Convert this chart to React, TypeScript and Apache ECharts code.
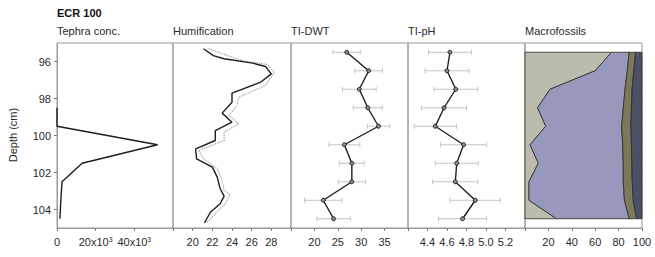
import React, { useEffect, useRef } from 'react';
import * as echarts from 'echarts';

// ---- Data ----
const depthTicks = [96, 98, 100, 102, 104];
const sampleDepths = [95.5, 96.5, 97.5, 98.5, 99.5, 100.5, 101.5, 102.5, 103.5, 104.5];

const tephraDepth = [98.5, 99.5, 100.5, 101.5, 102.5, 103.5, 104.5];
const tephraConc = [0, 0, 52000, 13000, 2600, 2000, 1500];
const tephraTicks = [0, 20000, 40000, 60000];
const tephraLabels = [0, 20000, 40000];

const humDepth = [95.31, 95.68, 95.85, 96.09, 96.27, 96.67, 97.12, 97.71, 98.2, 98.79, 99.28, 99.73, 100.27, 100.72, 101.26, 101.71, 102.25, 102.88, 103.28, 103.69, 104.15, 104.72];
const humValue = [21.1, 22.1, 23.2, 26.1, 27.4, 28.0, 26.9, 24.0, 24.0, 23.0, 24.0, 22.3, 22.3, 20.3, 20.4, 22.0, 22.5, 22.8, 23.2, 22.8, 21.8, 21.2];
const humDotDepth = [95.3, 95.58, 95.95, 96.16, 96.58, 97.3, 97.93, 98.38, 98.92, 99.37, 99.82, 100.27, 100.81, 101.26, 101.8, 102.43, 102.97, 103.2, 103.69, 104.32, 104.72];
const humDotValue = [21.6, 23.0, 25.0, 27.6, 28.3, 27.4, 24.7, 24.5, 23.7, 24.7, 23.2, 23.2, 20.6, 21.1, 22.5, 23.0, 23.2, 23.8, 23.3, 22.1, 21.45];
const humTicks = [18, 20, 22, 24, 26, 28, 30];
const humLabels = [20, 22, 24, 26, 28];

const dwtValue = [26.9, 31.6, 29.6, 31.4, 33.7, 26.4, 28.0, 28.0, 21.9, 24.1];
const dwtErr = [2.9, 2.95, 3.6, 3.1, 2.4, 3.3, 2.6, 2.9, 4.0, 3.55];
const dwtTicks = [15, 20, 25, 30, 35, 40];
const dwtLabels = [20, 25, 30, 35];

const phValue = [4.63, 4.60, 4.69, 4.57, 4.48, 4.77, 4.70, 4.685, 4.89, 4.76];
const phErr = [0.22, 0.225, 0.225, 0.23, 0.217, 0.237, 0.22, 0.232, 0.258, 0.246];
const phTicks = [4.2, 4.4, 4.6, 4.8, 5.0, 5.2, 5.4];
const phLabels = [4.4, 4.6, 4.8, 5.0, 5.2];

const macroBand1 = [74, 60, 21.4, 10.8, 17.7, 4.3, 11.4, 3.4, 3.4, 27];
const macroBand2 = [15, 27.5, 64.1, 73.2, 64.9, 79.2, 72.6, 80.6, 81.6, 62];
const macroBand3 = [5.5, 5.5, 6, 7, 7.9, 7.5, 7.2, 7.7, 7.5, 6.5];
const macroBand4 = [5.5, 7, 8.5, 9, 9.5, 9, 8.8, 8.3, 7.5, 4.5];
const macroTicks = [0, 20, 40, 60, 80, 100];
const macroLabels = [20, 40, 60, 80, 100];

const panelTitles = ['Tephra conc.', 'Humification', 'TI-DWT', 'TI-pH', 'Macrofossils'];
const chartTitle = 'ECR 100';
const depthName = 'Depth (cm)';

// ---- Styles / layout ----
const FONT = 'Liberation Sans, Arial, sans-serif';
const TXT = '#2a2a2a';
const FRAME = '#9a9a9a';
const TOP = 43;
const HEIGHT = 185;
const panels = [
  { left: 57, width: 116 },
  { left: 173, width: 118 },
  { left: 291, width: 117 },
  { left: 408, width: 117 },
  { left: 525, width: 117 },
];
const macroColors = ['#bcbcac', '#9898bc', '#7a7a5a', '#4e4e64'];

export default function App() {
  const ref = useRef<HTMLDivElement>(null);
  useEffect(() => {
    if (!ref.current) return;
    const chart = echarts.init(ref.current, undefined, { renderer: 'svg' });

    const grids = panels.map((p) => ({
      left: p.left,
      top: TOP,
      width: p.width,
      height: HEIGHT,
      show: true,
      borderColor: FRAME,
      borderWidth: 1,
      backgroundColor: 'transparent',
      containLabel: false,
    }));

    const xDefs = [
      { min: 0, max: 60000, interval: 20000, ticks: tephraTicks, labels: tephraLabels },
      { min: 18, max: 30, interval: 2, ticks: humTicks, labels: humLabels },
      { min: 15, max: 40, interval: 5, ticks: dwtTicks, labels: dwtLabels },
      { min: 4.2, max: 5.4, interval: 0.2, ticks: phTicks, labels: phLabels },
      { min: 0, max: 100, interval: 20, ticks: macroTicks, labels: macroLabels },
    ];

    const xAxes = xDefs.map((d, i) => ({
      type: 'value',
      gridIndex: i,
      min: d.min,
      max: d.max,
      interval: d.interval,
      position: 'bottom',
      axisLine: { show: true, lineStyle: { color: FRAME, width: 1 } },
      axisTick: { show: true, inside: false, length: 3, customValues: d.ticks, lineStyle: { color: '#777' } },
      splitLine: { show: false },
      axisLabel: {
        show: true,
        customValues: d.labels,
        margin: 8,
        color: TXT,
        fontSize: 11,
        fontFamily: FONT,
        formatter:
          i === 0
            ? (v: number) => (v === 0 ? '0' : `{b|${v / 1000}x10}{s|3}`)
            : i === 3
            ? (v: number) => v.toFixed(1)
            : (v: number) => String(v),
        rich:
          i === 0
            ? {
                b: { fontSize: 11, fontFamily: FONT, color: TXT },
                s: { fontSize: 7, fontFamily: FONT, color: TXT, verticalAlign: 'top' },
              }
            : undefined,
      },
    }));

    const yAxes = panels.map((_, i) => ({
      type: 'value',
      gridIndex: i,
      min: 95,
      max: 105,
      inverse: true,
      axisLine: { show: i === 0, lineStyle: { color: FRAME } },
      axisTick: { show: i === 0, length: 3, customValues: depthTicks, lineStyle: { color: '#777' } },
      splitLine: { show: false },
      axisLabel: {
        show: i === 0,
        customValues: depthTicks,
        margin: 6,
        color: TXT,
        fontSize: 11,
        fontFamily: FONT,
      },
    }));

    const errorBar = (xi: number, vals: number[], errs: number[]) => ({
      type: 'custom',
      xAxisIndex: xi,
      yAxisIndex: xi,
      z: 1,
      silent: true,
      encode: { x: [0, 1], y: 2 },
      data: vals.map((v, k) => [v - errs[k], v + errs[k], sampleDepths[k]]),
      renderItem: (params: any, api: any) => {
        const lo = api.coord([api.value(0), api.value(2)]);
        const hi = api.coord([api.value(1), api.value(2)]);
        const h = 2.5;
        const st = { stroke: '#c4c4c4', lineWidth: 1 };
        return {
          type: 'group',
          children: [
            { type: 'line', shape: { x1: lo[0], y1: lo[1], x2: hi[0], y2: hi[1] }, style: st },
            { type: 'line', shape: { x1: lo[0], y1: lo[1] - h, x2: lo[0], y2: lo[1] + h }, style: st },
            { type: 'line', shape: { x1: hi[0], y1: hi[1] - h, x2: hi[0], y2: hi[1] + h }, style: st },
          ],
        };
      },
    });

    const bands = [macroBand1, macroBand2, macroBand3, macroBand4];
    const macroSeries = {
      type: 'custom',
      xAxisIndex: 4,
      yAxisIndex: 4,
      silent: true,
      z: 1,
      encode: { x: 0, y: 1 },
      data: bands.map((_, b) => [b, sampleDepths[0]]),
      renderItem: (params: any, api: any) => {
        const b = api.value(0);
        const leftVals = sampleDepths.map((_, k) => {
          let s = 0;
          for (let j = 0; j < b; j++) s += bands[j][k];
          return s;
        });
        const rightVals = sampleDepths.map((_, k) => leftVals[k] + bands[b][k]);
        const pts: number[][] = [];
        sampleDepths.forEach((d, k) => pts.push(api.coord([rightVals[k], d])));
        for (let k = sampleDepths.length - 1; k >= 0; k--) pts.push(api.coord([leftVals[k], sampleDepths[k]]));
        return {
          type: 'polygon',
          shape: { points: pts },
          style: { fill: macroColors[b], stroke: '#2a2a2a', lineWidth: 0.8 },
        };
      },
    };

    const lineStyle = { color: '#1e1e1e', width: 1.4 };

    const series: any[] = [
      {
        type: 'line',
        xAxisIndex: 0,
        yAxisIndex: 0,
        data: tephraDepth.map((d, k) => [tephraConc[k], d]),
        showSymbol: false,
        lineStyle,
        z: 3,
      },
      {
        type: 'line',
        xAxisIndex: 1,
        yAxisIndex: 1,
        data: humDotDepth.map((d, k) => [humDotValue[k], d]),
        showSymbol: false,
        lineStyle: { color: '#9a9a9a', width: 1.2, type: 'dotted' },
        z: 2,
      },
      {
        type: 'line',
        xAxisIndex: 1,
        yAxisIndex: 1,
        data: humDepth.map((d, k) => [humValue[k], d]),
        showSymbol: false,
        lineStyle,
        z: 3,
      },
      errorBar(2, dwtValue, dwtErr),
      {
        type: 'line',
        xAxisIndex: 2,
        yAxisIndex: 2,
        data: sampleDepths.map((d, k) => [dwtValue[k], d]),
        symbol: 'circle',
        symbolSize: 4,
        itemStyle: { color: '#8a8a8a', borderColor: '#222', borderWidth: 1 },
        lineStyle,
        z: 3,
      },
      errorBar(3, phValue, phErr),
      {
        type: 'line',
        xAxisIndex: 3,
        yAxisIndex: 3,
        data: sampleDepths.map((d, k) => [phValue[k], d]),
        symbol: 'circle',
        symbolSize: 4,
        itemStyle: { color: '#8a8a8a', borderColor: '#222', borderWidth: 1 },
        lineStyle,
        z: 3,
      },
      macroSeries,
    ];

    const graphic: any[] = [
      {
        type: 'text',
        x: 57,
        y: 13,
        style: { text: chartTitle, fill: '#111', font: `bold 11px ${FONT}`, align: 'left', verticalAlign: 'middle' },
      },
      ...panelTitles.map((t, i) => ({
        type: 'text',
        x: panels[i].left + (i === 0 ? 0 : 0),
        y: 31,
        style: { text: t, fill: TXT, font: `11px ${FONT}`, align: 'left', verticalAlign: 'middle' },
      })),
      {
        type: 'text',
        x: 13,
        y: 135,
        rotation: Math.PI / 2,
        style: { text: depthName, fill: TXT, font: `11px ${FONT}`, align: 'center', verticalAlign: 'middle' },
      },
    ];

    chart.setOption({
      animation: false,
      backgroundColor: '#ffffff',
      grid: grids,
      xAxis: xAxes,
      yAxis: yAxes,
      series,
      graphic,
    } as any);

    return () => chart.dispose();
  }, []);

  return (
    <div
      ref={ref}
      style={{ position: 'absolute', left: 0, top: 0, width: 655, height: 257, background: '#fff' }}
    />
  );
}
